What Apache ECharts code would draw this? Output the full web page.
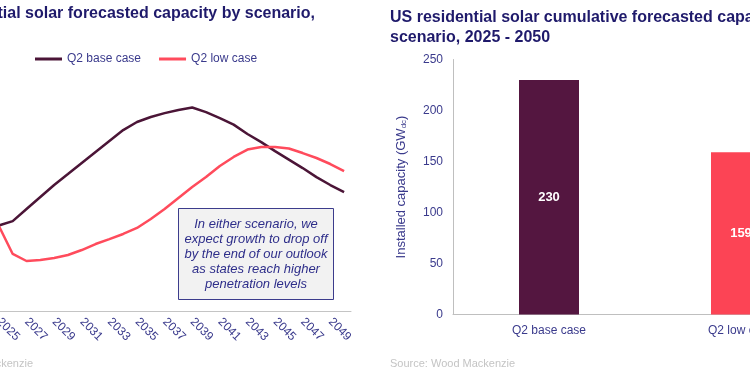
<!DOCTYPE html>
<html>
<head>
<meta charset="utf-8">
<script src="https://cdn.jsdelivr.net/npm/echarts@6/dist/echarts.min.js"></script>
<style>
  html, body { margin: 0; padding: 0; background: #fff; }
  #chart { width: 750px; height: 375px; }
</style>
</head>
<body>
<div id="chart"></div>
<script>
// annual installs by year (GWdc)
var years = ['2025', '2026', '2027', '2028', '2029', '2030', '2031', '2032', '2033', '2034',
    '2035', '2036', '2037', '2038', '2039', '2040', '2041', '2042', '2043', '2044',
    '2045', '2046', '2047', '2048', '2049', '2050'];
var baseCase = [4.84, 5.09, 5.77, 6.45, 7.13, 7.75, 8.38, 9.00, 9.62, 10.24,
    10.70, 10.98, 11.20, 11.38, 11.52, 11.26, 10.92, 10.55, 10.02, 9.56,
    9.05, 8.57, 8.09, 7.58, 7.13, 6.73];
var lowCase = [4.81, 3.23, 2.83, 2.89, 3.00, 3.17, 3.45, 3.79, 4.07, 4.36,
    4.70, 5.21, 5.77, 6.40, 7.02, 7.58, 8.21, 8.72, 9.14, 9.28,
    9.28, 9.20, 8.94, 8.66, 8.32, 7.92];

// cumulative totals, right chart
var scenarios = ['Q2 base case', 'Q2 low case'];
var cumulative = [230, 159];
var barColors = ['#541640', '#fc4455'];

var navy = '#1f1a6b';
var labelNavy = '#3a3a8c';
var font = 'Arial, "Liberation Sans", sans-serif';

var myChart = echarts.init(document.getElementById('chart'));
myChart.setOption({
    animation: false,
    textStyle: {fontFamily: font},
    title: [{
        text: 'US residential solar forecasted capacity by scenario,',
        right: 435,
        top: 6,
        padding: 0,
        textStyle: {fontSize: 16, fontWeight: 'bold', color: navy, fontFamily: font}
    }, {
        text: 'US residential solar cumulative forecasted capacity by\nscenario, 2025 - 2050',
        left: 390,
        top: 8,
        padding: 0,
        textStyle: {fontSize: 16, fontWeight: 'bold', color: navy, lineHeight: 20, fontFamily: font}
    }, {
        text: 'Source: Wood Mackenzie',
        right: 717,
        top: 358,
        padding: 0,
        textStyle: {fontSize: 11, fontWeight: 'normal', color: '#c4c4c4', fontFamily: font}
    }, {
        text: 'Source: Wood Mackenzie',
        left: 390,
        top: 358,
        padding: 0,
        textStyle: {fontSize: 11, fontWeight: 'normal', color: '#c4c4c4', fontFamily: font}
    }],
    legend: {
        data: ['Q2 base case', 'Q2 low case'],
        left: 35,
        top: 53,
        padding: 0,
        icon: 'rect',
        itemWidth: 27,
        itemHeight: 3,
        itemGap: 18,
        textStyle: {fontSize: 12, color: labelNavy, fontFamily: font}
    },
    grid: [
        {left: -8, width: 359, top: 99, height: 212, outerBoundsMode: 'none', containLabel: false},
        {left: 453, width: 384, top: 59.5, height: 255, outerBoundsMode: 'none', containLabel: false}
    ],
    xAxis: [{
        gridIndex: 0,
        type: 'category',
        data: years,
        boundaryGap: true,
        axisLine: {lineStyle: {color: '#c4c4c4', width: 1}},
        axisTick: {show: false},
        axisLabel: {
            interval: 1,
            rotate: -45,
            margin: 9,
            fontSize: 12,
            color: labelNavy
        }
    }, {
        gridIndex: 1,
        type: 'category',
        data: scenarios,
        axisLine: {lineStyle: {color: '#bfbfbf', width: 1}},
        axisTick: {show: false},
        axisLabel: {fontSize: 12, color: labelNavy, margin: 10}
    }],
    yAxis: [{
        gridIndex: 0,
        type: 'value',
        min: 0,
        max: 12,
        show: false
    }, {
        gridIndex: 1,
        type: 'value',
        min: 0,
        max: 250,
        interval: 50,
        name: 'Installed capacity (GW{sub|dc})',
        nameLocation: 'middle',
        nameGap: 45,
        nameTextStyle: {
            fontSize: 13,
            color: labelNavy,
            rich: {
                sub: {fontSize: 8, color: labelNavy, verticalAlign: 'bottom', padding: [6, 0, 0, 0]}
            }
        },
        axisLine: {show: true, lineStyle: {color: '#bfbfbf', width: 1}},
        axisTick: {show: false},
        splitLine: {show: false},
        axisLabel: {fontSize: 12, color: labelNavy, margin: 10}
    }],
    series: [{
        name: 'Q2 base case',
        type: 'line',
        xAxisIndex: 0,
        yAxisIndex: 0,
        data: baseCase,
        symbol: 'none',
        color: '#4b1537',
        lineStyle: {width: 2.5, color: '#4b1537'}
    }, {
        name: 'Q2 low case',
        type: 'line',
        xAxisIndex: 0,
        yAxisIndex: 0,
        data: lowCase,
        symbol: 'none',
        color: '#ff4b5c',
        lineStyle: {width: 2.5, color: '#ff4b5c'}
    }, {
        name: 'Cumulative',
        type: 'bar',
        xAxisIndex: 1,
        yAxisIndex: 1,
        barWidth: 60,
        data: cumulative.map(function (v, i) {
            return {value: v, itemStyle: {color: barColors[i]}};
        }),
        label: {
            show: true,
            position: 'inside',
            color: '#fff',
            fontWeight: 'bold',
            fontSize: 13
        }
    }],
    graphic: [{
        type: 'group',
        left: 178,
        top: 208,
        children: [{
            type: 'rect',
            shape: {x: 0, y: 0, width: 155, height: 91},
            style: {fill: '#f2f2f2', stroke: '#3c3c8c', lineWidth: 1}
        }, {
            type: 'text',
            x: 77.5,
            y: 8,
            style: {
                text: 'In either scenario, we\nexpect growth to drop off\nby the end of our outlook\nas states reach higher\npenetration levels',
                font: 'italic 13px Arial, "Liberation Sans", sans-serif',
                lineHeight: 15,
                fill: '#2e2e8a',
                textAlign: 'center'
            }
        }]
    }]
});
</script>
</body>
</html>
